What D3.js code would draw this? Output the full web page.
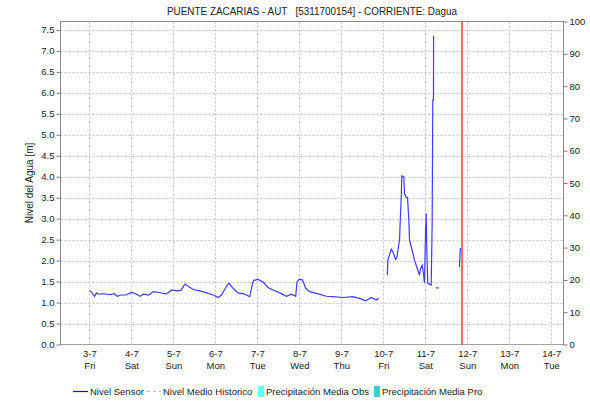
<!DOCTYPE html>
<html>
<head>
<meta charset="utf-8">
<script src="https://cdn.jsdelivr.net/npm/d3@7"></script>
<style>
  body { margin: 0; background: #fff; }
  svg { display: block; }
  text { font-family: "Liberation Sans", Arial, sans-serif; fill: #222; }
</style>
</head>
<body>
<svg id="chart" width="590" height="403"></svg>
<script>
// ---- data -------------------------------------------------------------
const chartTitle = "PUENTE ZACARIAS - AUT   [5311700154] - CORRIENTE: Dagua";
const yLeftLabel = "Nivel del Agua [m]";

// sensor readings (local time); null marks a gap in transmission
const sensorTimes = [
  "2020-07-03 00:00","2020-07-03 01:00","2020-07-03 03:00","2020-07-03 04:00","2020-07-03 05:00",
  "2020-07-03 08:00","2020-07-03 12:00","2020-07-03 14:00","2020-07-03 16:00","2020-07-03 18:00","2020-07-03 21:00",
  "2020-07-04 00:00","2020-07-04 02:00","2020-07-04 05:00","2020-07-04 07:00","2020-07-04 10:00",
  "2020-07-04 12:30","2020-07-04 16:00","2020-07-04 20:00","2020-07-04 23:00",
  "2020-07-05 02:00","2020-07-05 04:20","2020-07-05 06:36","2020-07-05 08:30","2020-07-05 11:20",
  "2020-07-05 15:10","2020-07-05 19:00","2020-07-05 22:45",
  "2020-07-06 01:36","2020-07-06 03:30","2020-07-06 06:00","2020-07-06 07:42","2020-07-06 10:10",
  "2020-07-06 13:00","2020-07-06 16:50","2020-07-06 19:42","2020-07-06 21:15","2020-07-06 22:00",
  "2020-07-07 00:26","2020-07-07 03:17","2020-07-07 06:08","2020-07-07 09:00","2020-07-07 12:48",
  "2020-07-07 16:38","2020-07-07 19:30","2020-07-07 21:56","2020-07-07 22:41","2020-07-07 23:50",
  "2020-07-08 01:46","2020-07-08 03:40","2020-07-08 05:56","2020-07-08 09:46","2020-07-08 15:28",
  "2020-07-08 19:13",
  "2020-07-09 00:56","2020-07-09 06:38","2020-07-09 10:28","2020-07-09 13:54","2020-07-09 17:08",
  "2020-07-09 20:00","2020-07-09 21:19",
  "2020-07-10 00:00",
  "2020-07-10 02:17","2020-07-10 02:37","2020-07-10 04:33","2020-07-10 05:28","2020-07-10 07:00",
  "2020-07-10 07:45","2020-07-10 09:17","2020-07-10 09:42","2020-07-10 10:16","2020-07-10 10:36",
  "2020-07-10 11:44","2020-07-10 12:08","2020-07-10 13:06","2020-07-10 13:51","2020-07-10 14:36",
  "2020-07-10 15:00","2020-07-10 15:58","2020-07-10 17:51","2020-07-10 19:44","2020-07-10 20:42",
  "2020-07-10 21:16","2020-07-10 22:14","2020-07-10 22:59","2020-07-10 23:33",
  "2020-07-11 00:07","2020-07-11 00:31","2020-07-11 00:52","2020-07-11 01:26","2020-07-11 03:23",
  "2020-07-11 03:56","2020-07-11 04:17","2020-07-11 04:41","2020-07-11 04:45",
  "2020-07-11 05:30",
  "2020-07-11 06:10","2020-07-11 07:40",
  "2020-07-11 12:00",
  "2020-07-11 19:30","2020-07-11 19:45","2020-07-11 20:00","2020-07-11 20:05"
];
const sensorLevels = [
  1.28,1.26,1.15,1.23,1.20,
  1.21,1.19,1.21,1.15,1.18,1.18,
  1.24,1.22,1.15,1.20,1.18,
  1.26,1.24,1.20,1.30,
  1.28,1.29,1.44,1.39,1.31,
  1.28,1.23,1.18,
  1.12,1.18,1.36,1.46,1.34,
  1.23,1.20,1.14,1.46,1.53,
  1.55,1.49,1.36,1.30,1.23,
  1.15,1.20,1.15,1.49,1.55,
  1.54,1.34,1.26,1.22,1.15,
  1.14,
  1.12,1.14,1.10,1.04,1.12,
  1.06,1.10,
  null,
  1.65,2.01,2.27,2.21,2.03,
  2.08,2.49,2.97,3.52,4.02,
  4.00,3.60,3.51,3.50,2.97,
  2.49,2.33,2.01,1.77,1.65,
  1.81,1.89,1.69,1.46,
  2.65,3.13,2.25,1.46,1.42,
  2.89,5.83,5.83,7.36,
  null,
  1.35,1.35,
  null,
  1.85,2.05,2.27,2.30
];

// axis ticks
const dayTicks = ["2020-07-03","2020-07-04","2020-07-05","2020-07-06","2020-07-07","2020-07-08",
                  "2020-07-09","2020-07-10","2020-07-11","2020-07-12","2020-07-13","2020-07-14"];
const levelTicks = [0,0.5,1,1.5,2,2.5,3,3.5,4,4.5,5,5.5,6,6.5,7,7.5];
const precipTicks = [0,10,20,30,40,50,60,70,80,90,100];

const timeStart = "2020-07-02 07:30";
const timeEnd   = "2020-07-14 07:00";
const currentTime = "2020-07-11 21:00";

const legendItems = ["Nivel Sensor","Nivel Medio Historico","Precipitación Media Obs","Precipitación Media Pro"];

// ---- layout -----------------------------------------------------------
const parseT = d3.timeParse("%Y-%m-%d %H:%M");
const parseD = d3.timeParse("%Y-%m-%d");
const plotL = 60.5, plotR = 563.5, plotT = 21.5, plotB = 344.5;
const FONT = "'Liberation Sans', Arial, sans-serif";

const svg = d3.select("#chart");

const x = d3.scaleTime().domain([parseT(timeStart), parseT(timeEnd)]).range([plotL, plotR]);
const yL = d3.scaleLinear().domain([0, 7.7]).range([plotB, plotT]);
const yR = d3.scaleLinear().domain([0, 100]).range([plotB, plotT]);

// title
svg.append("text")
  .attr("x", (plotL + plotR) / 2).attr("y", 15)
  .attr("text-anchor", "middle")
  .attr("textLength", 290).attr("lengthAdjust", "spacingAndGlyphs")
  .style("font-size", "10.5px").style("white-space", "pre")
  .text(chartTitle);

// grid
const grid = svg.append("g").style("stroke", "#c4c4c4").style("stroke-dasharray", "2,2").style("stroke-width", 1);
grid.selectAll("line.h").data(levelTicks.filter(v => v > 0)).join("line")
  .attr("x1", plotL).attr("x2", plotR)
  .attr("y1", d => Math.round(yL(d)) + 0.5).attr("y2", d => Math.round(yL(d)) + 0.5);
grid.selectAll("line.v").data(dayTicks.map(parseD)).join("line")
  .attr("x1", d => Math.round(x(d)) + 0.5).attr("x2", d => Math.round(x(d)) + 0.5)
  .attr("y1", plotT).attr("y2", plotB);

// frame
svg.append("path")
  .attr("d", `M${plotL},${plotB}V${plotT}H${plotR}V${plotB}`)
  .style("fill", "none").style("stroke", "#8a8a8a");
svg.append("line")
  .attr("x1", plotL).attr("x2", plotR).attr("y1", plotB).attr("y2", plotB)
  .style("stroke", "#444").style("stroke-dasharray", "1,1");

// left axis
const axL = svg.append("g").attr("transform", `translate(${plotL},0)`)
  .call(d3.axisLeft(yL).tickValues(levelTicks).tickFormat(d3.format(".1f")).tickSize(4).tickPadding(2).tickSizeOuter(0));
// right axis
const axR = svg.append("g").attr("transform", `translate(${plotR},0)`)
  .call(d3.axisRight(yR).tickValues(precipTicks).tickSize(4).tickPadding(2).tickSizeOuter(0));
[axL, axR].forEach(g => {
  g.select(".domain").remove();
  g.selectAll(".tick line").style("stroke", "#777");
  g.selectAll(".tick text").style("font-size", "9.5px").style("fill", "#222").style("font-family", FONT);
});

// bottom axis with two-line day labels
const fmtDM = d3.timeFormat("%-d-%-m");
const fmtWd = d3.timeFormat("%a");
const axB = svg.append("g").attr("transform", `translate(0,${plotB})`)
  .call(d3.axisBottom(x).tickValues(dayTicks.map(parseD)).tickFormat(fmtDM).tickSize(0).tickPadding(6));
axB.select(".domain").remove();
axB.selectAll(".tick text")
  .style("font-size", "9.5px").style("fill", "#222").style("font-family", FONT)
  .each(function (d) {
    d3.select(this).append("tspan").attr("x", 0).attr("dy", "1.25em").text(fmtWd(d));
  });

// y title
svg.append("text")
  .attr("transform", `translate(33,${(plotT + plotB) / 2}) rotate(-90)`)
  .attr("text-anchor", "middle")
  .style("font-size", "10px")
  .text(yLeftLabel);

// current time marker
const nowX = x(parseT(currentTime));
svg.append("line")
  .attr("x1", nowX).attr("x2", nowX)
  .attr("y1", plotT).attr("y2", plotB)
  .style("stroke", "#ff2a2a").style("stroke-width", 1.4);

// sensor level line
const series = sensorTimes.map((t, i) => ({ t: parseT(t), v: sensorLevels[i] }));
const levelLine = d3.line().defined(d => d.v !== null).x(d => x(d.t)).y(d => yL(d.v));
svg.append("path").datum(series)
  .attr("d", levelLine)
  .style("fill", "none").style("stroke", "#3c3cff").style("stroke-width", 1.2);

// legend
const lg = svg.append("g").attr("transform", "translate(0,391)");
lg.append("line").attr("x1", 73).attr("x2", 88).attr("y1", 0.5).attr("y2", 0.5)
  .style("stroke", "#1010e0").style("stroke-width", 1.2);
lg.append("text").attr("x", 90).attr("y", 4).style("font-size", "9.5px").text(legendItems[0]);
lg.append("line").attr("x1", 147).attr("x2", 161).attr("y1", 0.5).attr("y2", 0.5)
  .style("stroke", "#bbb").style("stroke-dasharray", "3,3");
lg.append("text").attr("x", 163).attr("y", 4).style("font-size", "9.5px").text(legendItems[1]);
lg.append("rect").attr("x", 258).attr("y", -5).attr("width", 6).attr("height", 11).style("fill", "#66ffff");
lg.append("text").attr("x", 266).attr("y", 4).style("font-size", "9.5px").text(legendItems[2]);
lg.append("rect").attr("x", 374).attr("y", -5).attr("width", 6).attr("height", 11).style("fill", "#44c8c8");
lg.append("text").attr("x", 382).attr("y", 4).style("font-size", "9.5px").text(legendItems[3]);
</script>
</body>
</html>
